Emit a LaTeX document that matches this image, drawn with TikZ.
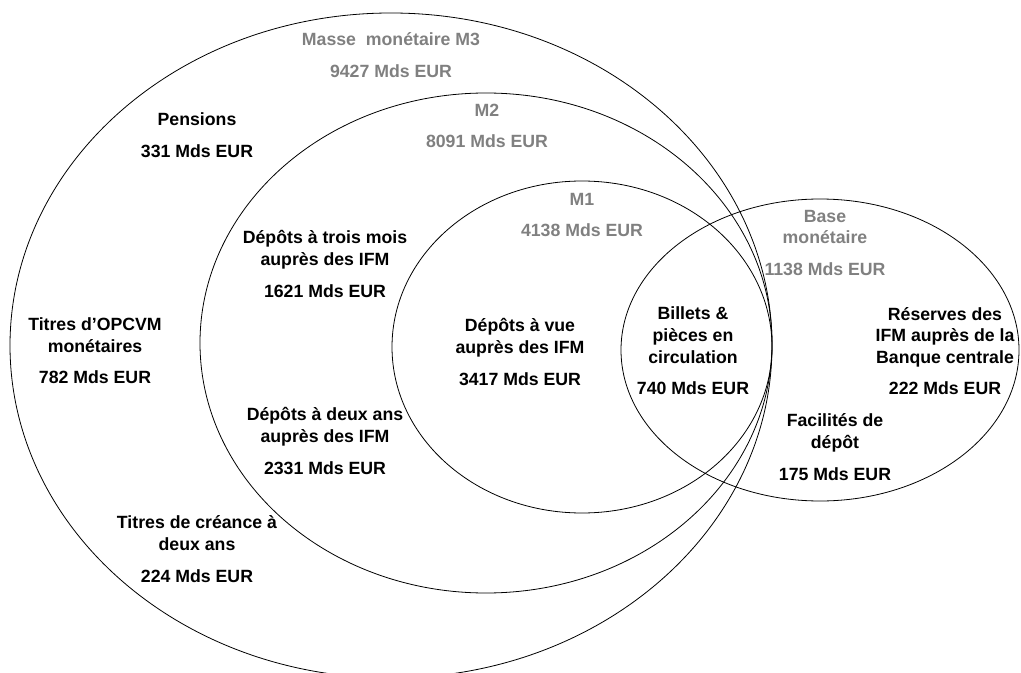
\documentclass[tikz,border=0pt]{standalone}
\usepackage{fontspec}
\setmainfont{Liberation Sans}
\definecolor{grisagregat}{RGB}{128,128,128}
\begin{document}
\begin{tikzpicture}[x=0.5pt,y=-0.5pt,line join=round,line cap=round,
	font=\fontsize{8.85}{10.8}\selectfont\bfseries,
	poste/.style={align=center,inner sep=0pt},
	agregat/.style={poste,text=grisagregat}]
	\useasboundingbox (0,0) rectangle (1021,673);
	\path
	(391,345.5)coordinate(M3)
	(486,343)coordinate(M2)
	(582,347)coordinate(M1)
	(820,350)coordinate(BM)
	;
	%%Ensembles
	\draw (M3) ellipse [x radius=381, y radius=332.5];
	\draw (M2) ellipse [x radius=286, y radius=250];
	\draw (M1) ellipse [x radius=190, y radius=166];
	\draw (BM) ellipse [x radius=199, y radius=151];
	%%Agregats
	\node[agregat] (lM3) at (391,55) {Masse~ monétaire M3\\[5pt]9427 Mds EUR};
	\node[agregat] (lM2) at (487,126) {M2\\[5pt]8091 Mds EUR};
	\node[agregat] (lM1) at (582,215) {M1\\[5pt]4138 Mds EUR};
	\node[agregat] (lBM) at (825,243) {Base\\monétaire\\[5pt]1138 Mds EUR};
	%%Composantes
	\node[poste] (pensions) at (197,135) {Pensions\\[5pt]331 Mds EUR};
	\node[poste] (troismois) at (325,264) {Dépôts à trois mois\\auprès des IFM\\[5pt]1621 Mds EUR};
	\node[poste] (opcvm) at (95,351) {Titres d’OPCVM\\monétaires\\[5pt]782 Mds EUR};
	\node[poste] (deuxans) at (325,441) {Dépôts à deux ans\\auprès des IFM\\[5pt]2331 Mds EUR};
	\node[poste] (creance) at (197,549) {Titres de créance à\\deux ans\\[5pt]224 Mds EUR};
	\node[poste] (vue) at (520,352) {Dépôts à vue\\auprès des IFM\\[5pt]3417 Mds EUR};
	\node[poste] (billets) at (693,351) {Billets \&\\pièces en\\circulation\\[5pt]740 Mds EUR};
	\node[poste] (reserves) at (945,351) {Réserves des\\IFM auprès de la\\Banque centrale\\[5pt]222 Mds EUR};
	\node[poste] (facilites) at (835,447) {Facilités de\\dépôt\\[5pt]175 Mds EUR};
\end{tikzpicture}
\end{document}
